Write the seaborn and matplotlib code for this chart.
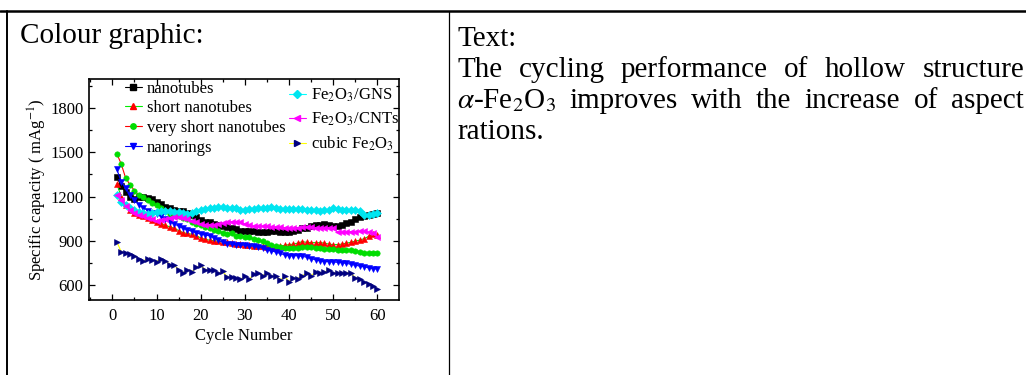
import numpy as np
import pandas as pd
import matplotlib
matplotlib.use("Agg")
import matplotlib.pyplot as plt
from matplotlib.lines import Line2D
from matplotlib.ticker import MultipleLocator
import seaborn as sns

# ---- data: specific capacity (mAh/g) vs. cycle number ----
cycles = list(range(1, 61))

nanotubes = [1330, 1270, 1230, 1200, 1180, 1195, 1200, 1190, 1180, 1165,
             1150, 1130, 1120, 1110, 1105, 1100, 1090, 1075, 1060, 1040,
             1030, 1025, 1015, 1010, 1000, 995, 985, 980, 970, 968,
             968, 965, 960, 958, 962, 965, 965, 962, 958, 962,
             968, 975, 985, 990, 1000, 1005, 1010, 1015, 1005, 1000,
             1000, 1010, 1020, 1030, 1045, 1060, 1070, 1078, 1085, 1090]

short_nanotubes = [1285, 1200, 1140, 1110, 1090, 1075, 1065, 1055, 1040, 1025,
                   1015, 1005, 995, 985, 970, 955, 950, 945, 935, 920,
                   910, 905, 900, 898, 893, 890, 885, 880, 878, 875,
                   872, 868, 865, 862, 860, 858, 858, 865, 870, 875,
                   878, 885, 895, 890, 888, 888, 888, 885, 878, 875,
                   875, 878, 885, 890, 898, 905, 915, 930, 945, 940]

very_short_nanotubes = [1490, 1420, 1325, 1280, 1240, 1210, 1195, 1175, 1155, 1140,
                        1120, 1100, 1085, 1075, 1065, 1055, 1045, 1030, 1015, 1005,
                        995, 985, 975, 965, 955, 945, 955, 935, 930, 925,
                        925, 915, 905, 900, 885, 875, 865, 858, 855, 855,
                        855, 855, 857, 858, 858, 855, 850, 848, 845, 842,
                        840, 840, 838, 835, 832, 828, 820, 818, 818, 820]

nanorings = [1385, 1300, 1260, 1210, 1175, 1145, 1125, 1105, 1090, 1080,
             1065, 1050, 1030, 1015, 1000, 985, 975, 965, 955, 945,
             940, 935, 920, 905, 890, 880, 878, 875, 872, 870,
             868, 862, 858, 850, 840, 832, 825, 815, 805, 800,
             800, 800, 795, 790, 780, 772, 765, 760, 760, 758,
             755, 752, 748, 742, 735, 730, 725, 718, 712, 710]

fe2o3_gns = [1210, 1165, 1140, 1125, 1110, 1095, 1090, 1085, 1090, 1095,
             1100, 1100, 1100, 1095, 1095, 1090, 1085, 1090, 1100, 1110,
             1115, 1120, 1125, 1130, 1130, 1125, 1125, 1125, 1110, 1110,
             1115, 1118, 1120, 1122, 1125, 1128, 1125, 1115, 1115, 1118,
             1118, 1115, 1115, 1112, 1110, 1110, 1105, 1108, 1110, 1120,
             1118, 1112, 1108, 1110, 1112, 1100, 1075, 1075, 1082, 1090]

fe2o3_cnts = [1210, 1175, 1135, 1110, 1090, 1075, 1065, 1055, 1045, 1035,
              1040, 1045, 1055, 1060, 1060, 1055, 1045, 1035, 1025, 1015,
              1010, 1010, 1010, 1015, 1020, 1025, 1030, 1030, 1025, 1015,
              1005, 1000, 1000, 1000, 1000, 995, 995, 992, 990, 985,
              985, 988, 992, 995, 995, 990, 985, 985, 990, 985,
              960, 958, 960, 962, 962, 965, 965, 960, 950, 928]

cubic_fe2o3 = [895, 825, 820, 810, 800, 775, 765, 780, 770, 760,
               780, 765, 740, 735, 705, 685, 705, 690, 720, 735,
               705, 705, 700, 680, 695, 655, 655, 650, 640, 660,
               640, 675, 685, 665, 680, 660, 665, 635, 660, 625,
               650, 645, 665, 680, 665, 690, 685, 690, 700, 680,
               685, 685, 685, 685, 650, 645, 620, 610, 595, 575]

series_names = ["nanotubes", "short nanotubes", "very short nanotubes", "nanorings",
                "Fe$_2$O$_3$/GNS", "Fe$_2$O$_3$/CNTs", "cubic Fe$_2$O$_3$"]
series_values = [nanotubes, short_nanotubes, very_short_nanotubes, nanorings,
                 fe2o3_gns, fe2o3_cnts, cubic_fe2o3]

# line colour, marker, marker colour
styles = [
    ("#000000", "s", "#000000"),
    ("#00ee00", "^", "#ff0000"),
    ("#ff0000", "o", "#00dd00"),
    ("#0000ff", "v", "#0000ff"),
    ("#00ffff", "D", "#00e5f0"),
    ("#ff00ff", "<", "#ff00ff"),
    ("#ffff00", ">", "#000080"),
]

df = pd.DataFrame({
    "cycle": np.tile(cycles, len(series_names)),
    "capacity": np.concatenate(series_values),
    "sample": np.repeat(series_names, len(cycles)),
})

sns.set_theme(style="ticks")
plt.rcParams["font.family"] = ["Liberation Serif", "DejaVu Serif"]
plt.rcParams["mathtext.fontset"] = "stix"
plt.rcParams["text.color"] = "black"
plt.rcParams["axes.labelcolor"] = "black"
plt.rcParams["xtick.color"] = "black"
plt.rcParams["ytick.color"] = "black"

W, H = 1026, 375
fig = plt.figure(figsize=(W / 100, H / 100), dpi=100)


def fx(px):
    return px / W


def fy(py):
    return 1 - py / H


# table rules
fig.add_artist(Line2D([0, 1], [fy(11), fy(11)], color="black", lw=1.8,
                      transform=fig.transFigure))
fig.add_artist(Line2D([fx(6.5), fx(6.5)], [fy(11), 0], color="black", lw=1.4,
                      transform=fig.transFigure))
fig.add_artist(Line2D([fx(449), fx(449)], [fy(11), 0], color="black", lw=0.9,
                      transform=fig.transFigure))

BODY = 21
fig.text(fx(20), fy(43), "Colour graphic:", fontsize=BODY, va="baseline", ha="left")
fig.text(fx(457), fy(46), "Text:", fontsize=BODY, va="baseline", ha="left")

# justified paragraph
renderer = fig.canvas.get_renderer()
x_left, x_right = 457, 1024
paragraph = [
    ("The cycling performance of hollow structure", 77, True),
    (r"$\alpha$-Fe$_2$O$_3$ improves with the increase of aspect", 108, True),
    ("rations.", 139, False),
]
for line, base, justify in paragraph:
    words = line.split(" ")
    objs = [fig.text(0, fy(base), w, fontsize=BODY, va="baseline", ha="left") for w in words]
    widths = [o.get_window_extent(renderer).width for o in objs]
    if justify and len(words) > 1:
        gap = (x_right - x_left - sum(widths)) / (len(words) - 1)
    else:
        gap = 0.25 * BODY * 100 / 72
    xpos = x_left
    for o, w in zip(objs, widths):
        o.set_x(fx(xpos))
        xpos += w + gap

# chart
ax = fig.add_axes([fx(89), fy(300), fx(399) - fx(89), fy(79) - fy(300)])
ax.set_facecolor("white")
for name, (lc, mk, mc) in zip(series_names, styles):
    sub = df[df["sample"] == name]
    sns.lineplot(data=sub, x="cycle", y="capacity", ax=ax, color=lc, marker=mk,
                 markerfacecolor=mc, markeredgecolor=mc, markeredgewidth=0.4,
                 markersize=3.9, linewidth=0.8, legend=False, zorder=3)

ax.set_xlim(-5.3, 64.9)
ax.set_ylim(500, 1995)
ax.xaxis.set_major_locator(MultipleLocator(10))
ax.xaxis.set_minor_locator(MultipleLocator(5))
ax.yaxis.set_major_locator(MultipleLocator(300))
ax.yaxis.set_minor_locator(MultipleLocator(150))
ax.set_yticks([600, 900, 1200, 1500, 1800])
ax.tick_params(which="both", direction="in", top=True, right=True,
               colors="black", labelsize=12, width=0.9)
ax.tick_params(which="major", length=4.5)
ax.tick_params(axis="x", which="major", pad=6)
ax.tick_params(axis="y", which="major", pad=4)
ax.tick_params(which="minor", length=2.5)
for sp in ax.spines.values():
    sp.set_color("black")
    sp.set_linewidth(1.2)
ax.set_xlabel("Cycle Number", fontsize=12, labelpad=3)
ax.set_ylabel("Specific capacity ( mAg$^{-1}$)", fontsize=12, labelpad=1)
ax.grid(False)

handles = [Line2D([], [], color=lc, marker=mk, markerfacecolor=mc, markeredgecolor=mc,
                  markersize=3.9, linewidth=0.8) for (lc, mk, mc) in styles]

leg1 = ax.legend(handles[:4], series_names[:4], loc="upper left",
                 bbox_to_anchor=(0.116, 0.993), frameon=False, fontsize=12,
                 handlelength=1.0, handletextpad=0.3, labelspacing=0.22,
                 borderpad=0, borderaxespad=0)
ax.add_artist(leg1)
ax.legend(handles[4:], series_names[4:], loc="upper left",
          bbox_to_anchor=(0.645, 0.965), frameon=False, fontsize=12,
          handlelength=1.0, handletextpad=0.3, labelspacing=0.40,
          borderpad=0, borderaxespad=0)

fig.savefig("out.png", dpi=100, facecolor="white")
